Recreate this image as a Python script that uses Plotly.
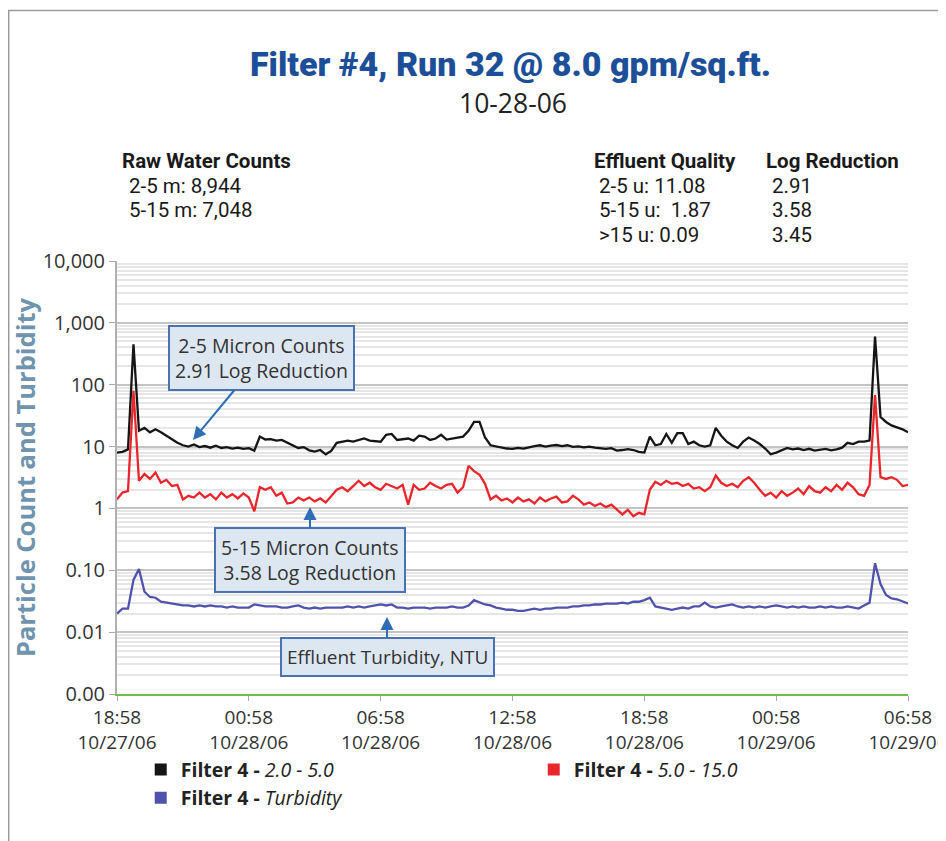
import pandas as pd
import plotly.graph_objects as go

# ---------------- data (15-minute samples) ----------------
start_time = "2006-10-27 18:58"
sample_minutes = 15
n_samples = 145

counts_2_5 = [
    8.0, 8.2, 9.0, 450, 18, 20, 17, 19,
    17, 15, 13, 11.5, 10.5, 10, 10.8, 9.8,
    10.2, 9.6, 10.3, 9.5, 9.8, 9.3, 9.6, 9.2,
    9.4, 8.6, 14.5, 13, 13.2, 12.5, 12.8, 11.5,
    10.5, 9.5, 9.8, 8.7, 8.3, 8.8, 7.5, 8.5,
    11.5, 12, 12.5, 12, 12.8, 13.5, 12.5, 12.3,
    12, 15.5, 16, 12.8, 13, 13.5, 12.5, 15,
    14.5, 12.8, 13.5, 15.5, 13, 13.5, 14, 14.5,
    18, 25, 25, 14, 10.5, 10, 9.5, 9.3,
    9.2, 9.5, 9.3, 9.8, 10.2, 10.5, 10.0, 10.4,
    10.6, 10.2, 10.5, 9.9, 10.1, 9.7, 10, 9.6,
    9.5, 9.2, 9.4, 8.6, 8.8, 9.1, 8.8, 8.2,
    8.0, 14.5, 10.5, 11, 16, 11.5, 16.5, 16.5,
    11, 12, 10.5, 10, 10.5, 20, 15, 12,
    10.5, 9.5, 12, 14, 12.5, 11, 9.3, 7.5,
    8.0, 8.8, 9.5, 9.0, 9.3, 8.8, 9.2, 8.6,
    8.9, 9.2, 8.7, 9.0, 9.6, 11.5, 11, 12,
    12, 12.5, 600, 30, 25, 22, 20.5, 19,
    17,
]

counts_5_15 = [
    1.4, 1.8, 1.9, 80, 2.8, 3.6, 3.0, 3.8,
    2.6, 2.9, 2.3, 2.4, 1.4, 1.6, 1.5, 1.8,
    1.5, 1.7, 1.4, 1.8, 1.5, 1.7, 1.45, 1.75,
    1.5, 0.9, 2.2, 2.0, 2.2, 1.6, 1.8, 1.2,
    1.25, 1.5, 1.35, 1.5, 1.3, 1.45, 1.25, 1.6,
    2.0, 2.2, 1.9, 2.3, 2.8, 2.3, 2.6, 2.2,
    2.0, 2.5, 2.3, 2.1, 2.4, 1.15, 2.4, 2.0,
    2.1, 2.6, 2.3, 2.1, 2.4, 2.5, 1.8, 2.2,
    4.9, 4.0, 3.5, 2.5, 1.4, 1.6, 1.35, 1.45,
    1.25, 1.5, 1.3, 1.4, 1.2, 1.5, 1.3, 1.45,
    1.55, 1.25, 1.3, 1.6, 1.4, 1.15, 1.25, 1.1,
    1.2, 1.05, 1.15, 0.95, 0.8, 0.95, 0.75, 0.85,
    0.8, 2.0, 2.7, 2.4, 2.8, 2.5, 2.6, 2.3,
    2.5, 2.1, 2.2, 1.9, 2.2, 3.4, 2.6, 2.3,
    2.5, 2.2, 2.8, 3.2, 2.6, 2.0, 1.6, 1.8,
    1.5, 1.9, 1.6, 1.8, 2.1, 1.7, 2.3, 1.9,
    1.8, 2.2, 1.9, 2.4, 2.0, 2.6, 2.2, 1.7,
    1.6, 2.4, 68, 3.2, 3.0, 3.2, 2.9, 2.3,
    2.4,
]

turbidity_ntu = [
    0.020, 0.024, 0.024, 0.070, 0.105, 0.045, 0.037, 0.036,
    0.031, 0.030, 0.029, 0.028, 0.027, 0.027, 0.026, 0.027,
    0.026, 0.027, 0.026, 0.026, 0.025, 0.026, 0.025, 0.025,
    0.025, 0.028, 0.027, 0.026, 0.026, 0.026, 0.025, 0.025,
    0.026, 0.027, 0.025, 0.024, 0.025, 0.024, 0.025, 0.025,
    0.025, 0.025, 0.026, 0.025, 0.026, 0.025, 0.026, 0.027,
    0.028, 0.027, 0.028, 0.025, 0.025, 0.024, 0.025, 0.025,
    0.025, 0.024, 0.025, 0.025, 0.025, 0.026, 0.025, 0.025,
    0.027, 0.033, 0.030, 0.028, 0.027, 0.025, 0.024, 0.023,
    0.023, 0.022, 0.022, 0.023, 0.024, 0.023, 0.024, 0.024,
    0.025, 0.025, 0.025, 0.026, 0.026, 0.027, 0.027, 0.028,
    0.028, 0.029, 0.029, 0.029, 0.030, 0.029, 0.031, 0.031,
    0.033, 0.036, 0.026, 0.025, 0.024, 0.023, 0.024, 0.025,
    0.024, 0.026, 0.026, 0.030, 0.026, 0.025, 0.026, 0.027,
    0.028, 0.026, 0.025, 0.026, 0.025, 0.026, 0.025, 0.026,
    0.027, 0.026, 0.025, 0.026, 0.025, 0.026, 0.025, 0.025,
    0.026, 0.025, 0.026, 0.025, 0.025, 0.026, 0.025, 0.024,
    0.027, 0.030, 0.130, 0.060, 0.040, 0.035, 0.034, 0.031,
    0.029,
]

x_tick_times = ["2006-10-27 18:58", "2006-10-28 00:58", "2006-10-28 06:58",
                "2006-10-28 12:58", "2006-10-28 18:58", "2006-10-29 00:58",
                "2006-10-29 06:58"]
x_tick_labels = ["18:58<br>10/27/06", "00:58<br>10/28/06", "06:58<br>10/28/06",
                 "12:58<br>10/28/06", "18:58<br>10/28/06", "00:58<br>10/29/06",
                 "06:58<br>10/29/06"]
y_tick_values = [0.001, 0.01, 0.1, 1, 10, 100, 1000, 10000]
y_tick_labels = ["0.00", "0.01", "0.10", "1", "10", "100", "1,000", "10,000"]

series_names = ["<b>Filter 4 - </b><i>2.0 - 5.0</i>",
                "<b>Filter 4 - </b><i>5.0 - 15.0</i>",
                "<b>Filter 4 - </b><i>Turbidity</i>"]
series_colors = ["#151515", "#e8262c", "#5052ad"]

raw_water_lines = ["2-5 m: 8,944", "5-15 m: 7,048"]
effluent_lines = ["2-5 u: 11.08", "5-15 u:  1.87", ">15 u: 0.09"]
log_reduction_lines = ["2.91", "3.58", "3.45"]

times = pd.date_range(start_time, periods=n_samples, freq=f"{sample_minutes}min")

# ---------------- figure ----------------
fig = go.Figure()
for vals, col in zip([counts_2_5, counts_5_15, turbidity_ntu], series_colors):
    fig.add_trace(go.Scatter(x=times, y=vals, mode="lines",
                             line=dict(color=col, width=2.3), showlegend=False,
                             hoverinfo="x+y"))
# legend entries with square swatches
for name, col in zip(series_names, series_colors):
    fig.add_trace(go.Scatter(x=[None], y=[None], mode="markers", name=name,
                             marker=dict(symbol="square", size=12, color=col),
                             showlegend=True))

FONT = "Open Sans"
minor_vals = [m * 10 ** k for k in range(-3, 4) for m in range(2, 10)]

# the page body adds an 8px offset, so margins are reduced by 8px on left/top
fig.update_layout(
    width=946, height=841,
    margin=dict(l=109, r=46, t=253, b=155, autoexpand=False),
    paper_bgcolor="white", plot_bgcolor="white",
    font=dict(family=FONT, color="#333333", size=16),
    showlegend=True,
    legend=dict(orientation="h", x=0.030, xanchor="left", y=-0.13, yanchor="top",
                entrywidth=348, entrywidthmode="pixels", itemwidth=30,
                tracegroupgap=0, font=dict(family=FONT, size=19.5, color="#222222"),
                bgcolor="rgba(0,0,0,0)"),
    xaxis=dict(type="date", range=[times[0], times[-1]], automargin=False,
               tickvals=x_tick_times, ticktext=x_tick_labels,
               ticklabeloverflow="allow",
               showgrid=False, zeroline=False,
               showline=True, linecolor="#6cc04a", linewidth=2,
               ticks="outside", ticklen=5, tickcolor="#aaaaaa", tickwidth=1,
               tickfont=dict(family=FONT, size=19, color="#333333")),
    yaxis=dict(type="log", range=[-3, 4], automargin=False,
               tickvals=y_tick_values, ticktext=y_tick_labels,
               showgrid=True, gridcolor="#c4c4c4", gridwidth=2,
               minor=dict(tickvals=minor_vals, showgrid=True,
                          gridcolor="#e6e6e6", gridwidth=2, ticks=""),
               zeroline=False, showline=True, linecolor="#b0b0b0", linewidth=2,
               ticks="outside", ticklen=6, tickcolor="#aaaaaa",
               tickfont=dict(family=FONT, size=20, color="#333333"),
               title=dict(text="<b>Particle Count and Turbidity</b>", standoff=4,
                          font=dict(family=FONT, size=25.5, color="#7094ae"))),
)

# outer frame (left and top edges of the picture)
fig.add_shape(type="rect", xref="paper", yref="paper",
              x0=-0.1369, x1=1.2, y0=-0.5, y1=1.5785,
              line=dict(color="#9a9a9a", width=1.5), fillcolor="rgba(0,0,0,0)",
              layer="below")

def px(xp):
    return (xp - 117) / 791.0

def py(yp):
    return (694 - yp) / 433.0

ann = []
ann.append(dict(text="Filter #4, Run 32 @ 8.0 gpm/sq.ft.", x=px(510), y=py(64),
                xref="paper", yref="paper", showarrow=False, yanchor="middle",
                font=dict(family="Roboto", size=34, weight=900, color="#1d4f99")))
ann.append(dict(text="10-28-06", x=px(513), y=py(103.5), xref="paper", yref="paper",
                showarrow=False, yanchor="middle",
                font=dict(family=FONT, size=26.5, color="#222222")))

hdr_font = dict(family="Roboto", size=20.5, color="#1a1a1a")

def txt(t, xp, yp):
    return dict(text=t, x=px(xp), y=py(yp), xref="paper", yref="paper",
                xanchor="left", yanchor="middle", showarrow=False, font=hdr_font)

ann.append(txt("<b>Raw Water Counts</b>", 120, 161))
ann.append(txt("<b>Effluent Quality</b>", 592, 161))
ann.append(txt("<b>Log Reduction</b>", 764, 161))
for i, t in enumerate(raw_water_lines):
    ann.append(txt(t, 127, 186 + 24.5 * i))
for i, t in enumerate(effluent_lines):
    ann.append(txt(t, 597, 186 + 24.5 * i))
for i, t in enumerate(log_reduction_lines):
    ann.append(txt(t, 770, 186 + 24.5 * i))

box = dict(xref="paper", yref="paper", showarrow=True, arrowhead=2, arrowsize=1.3,
           arrowwidth=2, arrowcolor="#2f6db5", bgcolor="#dde7f1",
           bordercolor="#4a72b0", borderwidth=2, borderpad=5,
           font=dict(family=FONT, size=19.5, color="#333333"))
ann.append(dict(box, text="2-5 Micron Counts<br>2.91 Log Reduction",
                x=px(193), y=py(440), ax=68, ay=-82))
ann.append(dict(box, text="5-15 Micron Counts<br>3.58 Log Reduction",
                x=px(310), y=py(507), ax=0, ay=53))
ann.append(dict(box, text="Effluent Turbidity, NTU", font=dict(box["font"], size=19),
                x=px(387), y=py(617), ax=0, ay=40))

fig.update_layout(annotations=ann)
fig.write_html("out.html")
